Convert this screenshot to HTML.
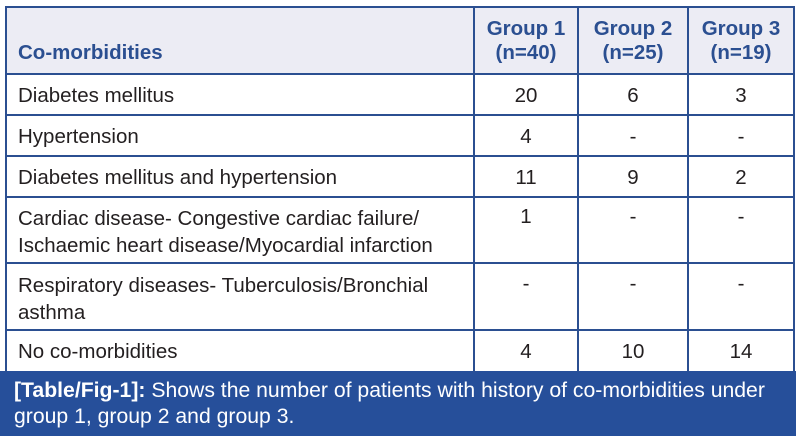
<!DOCTYPE html>
<html><head><meta charset="utf-8"><style>
body{margin:0;width:799px;height:439px;background:#fff;font-family:"Liberation Sans",Arial,sans-serif;position:relative;overflow:hidden}
.l{position:absolute;background:#2b4f91}
.t{position:absolute;font-size:20.5px;color:#231f20;line-height:24px;white-space:nowrap}
.h{position:absolute;font-size:20.5px;color:#2b4f91;font-weight:bold;line-height:24px;text-align:center;white-space:nowrap}
.c{text-align:center}
</style></head><body>
<div style="position:absolute;left:5px;top:6px;width:789px;height:68px;background:#ececf4"></div>
<div style="position:absolute;left:0;top:371px;width:796px;height:65px;background:#264f9a"></div>
<div class="l" style="left:5px;top:6px;width:790px;height:2px"></div>
<div class="l" style="left:5px;top:73px;width:790px;height:2px"></div>
<div class="l" style="left:5px;top:114px;width:790px;height:2px"></div>
<div class="l" style="left:5px;top:155px;width:790px;height:2px"></div>
<div class="l" style="left:5px;top:196px;width:790px;height:2px"></div>
<div class="l" style="left:5px;top:262px;width:790px;height:2px"></div>
<div class="l" style="left:5px;top:329px;width:790px;height:2px"></div>
<div class="l" style="left:5px;top:6px;width:2px;height:366px"></div>
<div class="l" style="left:473px;top:6px;width:2px;height:366px"></div>
<div class="l" style="left:577px;top:6px;width:2px;height:366px"></div>
<div class="l" style="left:687px;top:6px;width:2px;height:366px"></div>
<div class="l" style="left:793px;top:6px;width:2px;height:366px"></div>

<div class="h" style="left:18px;top:41px;text-align:left">Co-morbidities</div>
<div class="h" style="left:475px;top:17px;width:102px">Group 1<br>(n=40)</div>
<div class="h" style="left:579px;top:17px;width:108px">Group 2<br>(n=25)</div>
<div class="h" style="left:689px;top:17px;width:104px">Group 3<br>(n=19)</div>

<div class="t" style="left:18px;top:84px">Diabetes mellitus</div>
<div class="t" style="left:18px;top:125px">Hypertension</div>
<div class="t" style="left:18px;top:166px">Diabetes mellitus and hypertension</div>
<div class="t" style="left:18px;top:205px;line-height:27px">Cardiac disease- Congestive cardiac failure/<br>Ischaemic heart disease/Myocardial infarction</div>
<div class="t" style="left:18px;top:272px;line-height:27px">Respiratory diseases- Tuberculosis/Bronchial<br>asthma</div>
<div class="t" style="left:18px;top:340px">No co-morbidities</div>

<div class="t c" style="left:475px;top:84px;width:102px">20</div>
<div class="t c" style="left:579px;top:84px;width:108px">6</div>
<div class="t c" style="left:689px;top:84px;width:104px">3</div>
<div class="t c" style="left:475px;top:125px;width:102px">4</div>
<div class="t c" style="left:579px;top:125px;width:108px">-</div>
<div class="t c" style="left:689px;top:125px;width:104px">-</div>
<div class="t c" style="left:475px;top:166px;width:102px">11</div>
<div class="t c" style="left:579px;top:166px;width:108px">9</div>
<div class="t c" style="left:689px;top:166px;width:104px">2</div>
<div class="t c" style="left:475px;top:205px;width:102px">1</div>
<div class="t c" style="left:579px;top:205px;width:108px">-</div>
<div class="t c" style="left:689px;top:205px;width:104px">-</div>
<div class="t c" style="left:475px;top:272px;width:102px">-</div>
<div class="t c" style="left:579px;top:272px;width:108px">-</div>
<div class="t c" style="left:689px;top:272px;width:104px">-</div>
<div class="t c" style="left:475px;top:340px;width:102px">4</div>
<div class="t c" style="left:579px;top:340px;width:108px">10</div>
<div class="t c" style="left:689px;top:340px;width:104px">14</div>

<div style="position:absolute;left:14px;top:378px;width:790px;color:#fff;font-size:21.2px;line-height:26px;white-space:nowrap"><b>[Table/Fig-1]:</b> Shows the number of patients with history of co-morbidities under<br>group 1, group 2 and group 3.</div>
</body></html>
